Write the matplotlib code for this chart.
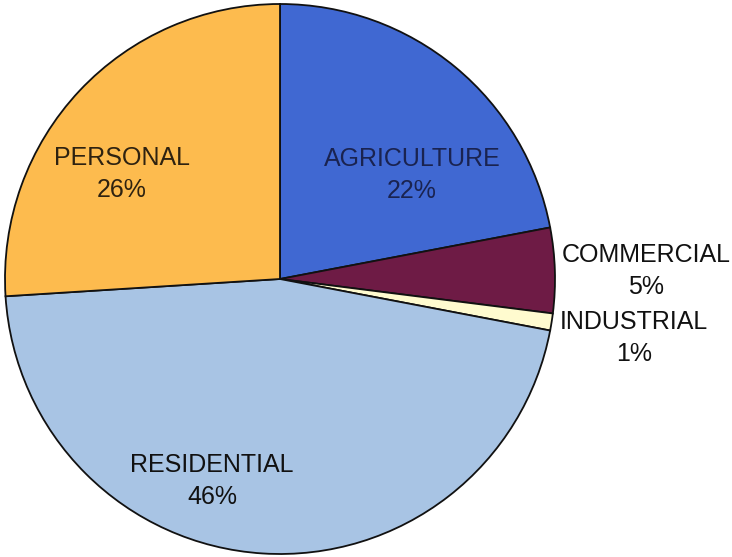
import matplotlib
matplotlib.use("Agg")
import matplotlib.pyplot as plt

# Water use by sector (percent of total)
sectors = ["AGRICULTURE", "COMMERCIAL", "INDUSTRIAL", "RESIDENTIAL", "PERSONAL"]
shares = [22, 5, 1, 46, 26]
colors = ["#4068D2", "#6E1B45", "#FFFBCF", "#A8C4E4", "#FDBB4E"]
text_colors = ["#1A2350", "#111111", "#111111", "#111111", "#2E2210"]
# label anchor points in pie-radius units
label_xy = [(0.48, 0.378), (1.331, 0.029), (1.287, -0.215), (-0.247, -0.735), (-0.575, 0.382)]

fig = plt.figure(figsize=(7.32, 5.57), dpi=100)
W, H = 732, 557
cx, cy, R = 280, 279, 275
ax = fig.add_axes([(cx - R) / W, (H - cy - R) / H, 2 * R / W, 2 * R / H])
ax.set_xlim(-1, 1)
ax.set_ylim(-1, 1)
ax.set_aspect("equal")
ax.axis("off")

ax.pie(shares, colors=colors, startangle=90, counterclock=False, radius=1.0,
       wedgeprops=dict(edgecolor="#111111", linewidth=1.3), frame=False)
ax.set_xlim(-1, 1)
ax.set_ylim(-1, 1)

for name, val, (x, y), tc in zip(sectors, shares, label_xy, text_colors):
    ax.text(x, y, f"{name}\n{val}%", ha="center", va="center", fontsize=18,
            family="Liberation Sans", color=tc, linespacing=1.4, clip_on=False)

fig.savefig("out.png", dpi=100)
